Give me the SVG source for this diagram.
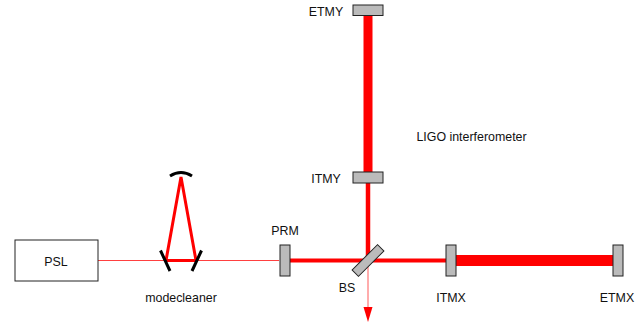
<svg xmlns="http://www.w3.org/2000/svg" width="638" height="322" viewBox="0 0 638 322">
<style>
text{font-family:"Liberation Sans",Arial,sans-serif;font-size:12.400px;fill:#111;text-anchor:middle}
.m{fill:#bbb;stroke:#222;stroke-width:1}
.b{stroke:#f00;fill:none}
.c{stroke:#000;fill:none;stroke-width:3}
</style>
<rect width="638" height="322" fill="#fff"/>
<g id="connectors">
<path fill="none" stroke="#f00" stroke-opacity=".75" stroke-width="1" d="M98 260.500H279"/>
<path class="b" stroke-width="3" d="M166 260.500L181 177L196 260.500M166 260.500H196"/>
<path class="b" stroke-width="4" d="M290 260.500H446"/>
<path class="b" stroke-width="11" d="M456 260.500H613"/>
<path class="b" stroke-width="4.500" d="M368 183V260"/>
<path class="b" stroke-width="9" d="M368 16V172"/>
<path fill="none" stroke="#f00" stroke-opacity=".65" stroke-width="1" d="M368 261V307"/>
<path fill="#f00" d="M363.500 307H372.500L368 322Z"/>
</g>
<g id="PSL"><rect x="15" y="240" width="83" height="41" fill="#fff" stroke="#222"/><text x="56" y="266">PSL</text></g>
<g id="modecleaner">
<path class="c" d="M160.500 250.500L170 271M201.500 250.500L192 271"/>
<path class="c" d="M170 176Q181 169 192 176"/>
<text x="181" y="302">modecleaner</text>
</g>
<g id="PRM"><rect class="m" x="280" y="245" width="10" height="31"/><text x="285" y="235">PRM</text></g>
<g id="BS"><rect class="m" x="350" y="256" width="36" height="9" transform="rotate(-45 368 260.500)"/><text x="347" y="292">BS</text></g>
<g id="ITMX"><rect class="m" x="446" y="245" width="10" height="31"/><text x="451" y="302">ITMX</text></g>
<g id="ETMX"><rect class="m" x="613" y="245" width="10" height="31"/><text x="617" y="302">ETMX</text></g>
<g id="ITMY"><rect class="m" x="353" y="172" width="30" height="11"/><text x="326" y="183">ITMY</text></g>
<g id="ETMY"><rect class="m" x="353" y="5" width="30" height="10.500"/><text x="326" y="16">ETMY</text></g>
<text x="471.500" y="141">LIGO interferometer</text>
</svg>
